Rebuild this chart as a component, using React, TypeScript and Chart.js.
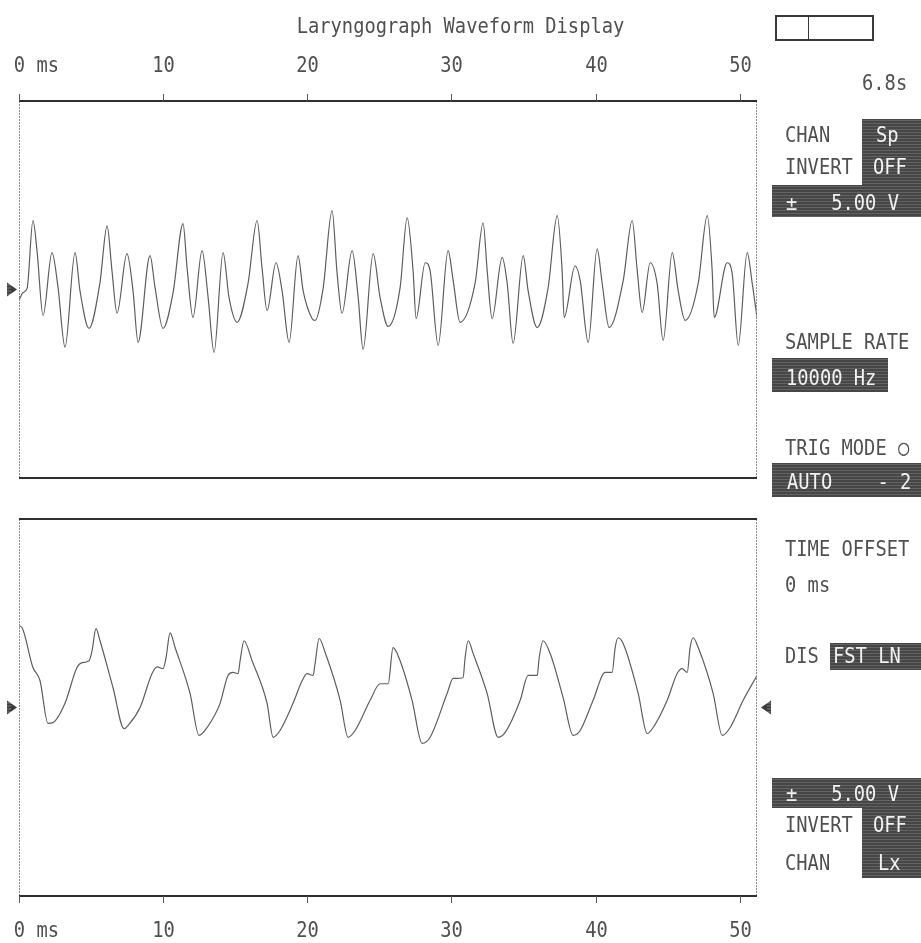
import React, { useEffect, useRef } from 'react';
import { Chart, registerables } from 'chart.js';

Chart.register(...registerables);

// ---------- data ----------
const X_MAX_MS = 51.2;
const V_RANGE = 5;
const TICK_VALUES = [0, 10, 20, 30, 40, 50];
const TICK_LABELS = ['0 ms', '10', '20', '30', '40', '50'];

// Speech (Sp) channel, top panel
const SP_TIME_MS = [
  0, 0.28, 0.56, 0.97, 1.25, 1.67, 2.29, 2.71, 3.19, 3.89,
  4.23, 4.86, 5.62, 6.11, 6.45, 6.8, 7.49, 7.91, 8.26, 9.09,
  9.44, 9.99, 10.69, 11.38, 11.66, 12.07, 12.7, 13.12, 13.53, 14.16,
  14.57, 15.13, 15.89, 16.52, 16.86, 17.21, 17.83, 18.25, 18.74, 19.36,
  19.71, 20.33, 20.54, 21.1, 21.72, 22.07, 22.41, 23.11, 23.53, 23.87,
  24.57, 25.05, 25.61, 26.44, 26.93, 27.34, 27.55, 28.18, 28.52, 29.08,
  29.77, 30.12, 30.6, 31.64, 32.2, 32.48, 32.82, 33.52, 33.87, 34.28,
  34.98, 35.32, 35.95, 36.71, 37.34, 37.68, 37.82, 38.58, 38.93, 39.49,
  40.11, 40.46, 40.94, 41.92, 42.54, 42.89, 43.23, 43.79, 44.27, 44.69,
  45.32, 45.73, 46.22, 47.12, 47.75, 48.09, 48.23, 49.13, 49.48, 49.9,
  50.52, 50.87, 51.2,
];
const SP_VOLTS = [
  -0.29, -0.08, 0.03, 1.83, 1.03, -0.69, 0.98, 0.05, -1.53, 0.98,
  -0.03, -1.03, 0.19, 1.69, 0.5, -0.63, 0.95, -0.03, -1.4, 0.9,
  0.05, -1.03, -0.08, 1.75, 0.58, -0.74, 1.03, -0.21, -1.67, 0.98,
  -0.21, -0.87, 0.16, 1.83, 0.58, -0.56, 0.71, -0.03, -1.4, 0.9,
  -0.03, -0.77, -0.82, 0.03, 2.09, 0.42, -0.63, 1.03, -0.21, -1.59,
  0.95, -0.21, -0.98, 0.05, 1.9, 0.5, -0.77, 0.71, 0.5, -1.48,
  1.03, 0.24, -0.87, 0.16, 1.77, 0.5, -0.77, 0.85, 0.16, -1.43,
  0.9, -0.03, -1.01, 0.05, 1.96, 0.5, -0.74, 0.63, 0.24, -1.4,
  1.08, 0.16, -1.01, 0.24, 1.83, 0.5, -0.61, 0.71, 0.16, -1.35,
  0.98, -0.03, -0.82, 0.16, 1.96, 0.5, -0.74, 0.71, 0.42, -1.48,
  0.98, 0.16, -0.74,
];

// Laryngograph (Lx) channel, bottom panel
const LX_TIME_MS = [
  0, 0.21, 0.97, 1.46, 2.01, 2.36, 3.19, 4.02, 4.37, 4.86,
  5.07, 5.34, 5.62, 6.52, 7.29, 7.56, 8.4, 9.23, 9.58, 9.99,
  10.2, 10.48, 10.83, 11.87, 12.49, 13.05, 13.95, 14.5, 14.85, 15.2,
  15.34, 15.61, 16.17, 17.21, 17.63, 18.11, 19.01, 19.64, 19.99, 20.4,
  20.54, 20.82, 21.24, 22.28, 22.83, 23.32, 24.36, 25.05, 25.61, 25.95,
  26.44, 27.27, 27.97, 28.52, 29.7, 30.12, 30.81, 30.95, 31.16, 31.51,
  32.48, 33.24, 33.73, 34.77, 35.32, 35.95, 36.09, 36.36, 36.85, 37.75,
  38.45, 38.93, 39.83, 40.67, 41.15, 41.36, 41.57, 41.92, 42.96, 43.58,
  44.0, 44.97, 45.66, 46.01, 46.36, 46.56, 46.77, 47.12, 48.16, 48.79,
  49.34, 50.24, 51.2,
];
const LX_VOLTS = [
  2.17, 2.12, 1.06, 0.71, -0.42, -0.4, 0.11, 1.06, 1.19, 1.24,
  1.51, 2.09, 1.77, 0.53, -0.56, -0.48, 0.0, 0.9, 1.08, 1.03,
  1.32, 1.98, 1.59, 0.37, -0.74, -0.53, 0.11, 0.85, 0.93, 0.9,
  1.24, 1.77, 1.24, 0.11, -0.79, -0.61, 0.11, 0.71, 0.9, 0.85,
  1.16, 1.83, 1.46, 0.19, -0.79, -0.61, 0.19, 0.63, 0.63, 1.59,
  1.24, 0.19, -0.95, -0.79, 0.37, 0.77, 0.79, 1.32, 1.77, 1.43,
  0.37, -0.79, -0.66, 0.19, 0.85, 0.85, 1.32, 1.77, 1.43, 0.26,
  -0.74, -0.61, 0.19, 0.93, 0.93, 1.59, 1.85, 1.69, 0.37, -0.69,
  -0.53, 0.19, 0.9, 1.03, 0.93, 1.59, 1.85, 1.59, 0.37, -0.74,
  -0.53, 0.19, 0.85,
];

// ---------- text / panel content ----------
const TITLE = 'Laryngograph Waveform Display';
const SWEEP_TIME = '6.8s';
// [text, x, baseline, inverse]
const PANEL_TEXT: [string, number, number, boolean][] = [
  ['CHAN', 785, 142, false],
  ['Sp', 876, 142, true],
  ['INVERT', 785, 174, false],
  ['OFF', 873, 174, true],
  ['±   5.00 V', 786, 210, true],
  ['SAMPLE RATE', 785, 349, false],
  ['10000 Hz', 786, 385, true],
  ['TRIG MODE ○', 785, 455, false],
  ['AUTO    - 2', 787, 489, true],
  ['TIME OFFSET', 785, 556, false],
  ['0 ms', 785, 592, false],
  ['DIS', 785, 663, false],
  ['FST LN', 833, 663, true],
  ['±   5.00 V', 786, 801, true],
  ['INVERT', 785, 832, false],
  ['OFF', 873, 832, true],
  ['CHAN', 785, 870, false],
  ['Lx', 878, 870, true],
];
// [x, y, w, h]
const PANEL_BOXES: [number, number, number, number][] = [
  [862, 119, 59, 66],
  [772, 185, 149, 32],
  [772, 358, 116, 34],
  [772, 463, 149, 34],
  [830, 643, 91, 27],
  [772, 778, 149, 30],
  [862, 808, 59, 70],
];

// ---------- drawing helpers ----------
const FONT_PX = 22;
const SX = 0.853;
const FONT = `${FONT_PX}px "DejaVu Sans Mono", "Liberation Mono", monospace`;
const INK = '#505050';

function drawText(ctx: CanvasRenderingContext2D, s: string, x: number, y: number, color: string, align: CanvasTextAlign = 'left') {
  ctx.save();
  ctx.font = FONT;
  ctx.fillStyle = color;
  ctx.textBaseline = 'alphabetic';
  ctx.textAlign = align;
  ctx.translate(x, y);
  ctx.scale(SX, 1);
  ctx.fillText(s, 0, 0);
  ctx.restore();
}

function textWidth(ctx: CanvasRenderingContext2D, s: string) {
  ctx.save();
  ctx.font = FONT;
  const w = ctx.measureText(s).width * SX;
  ctx.restore();
  return w;
}

function darkBox(ctx: CanvasRenderingContext2D, x: number, y: number, w: number, h: number) {
  ctx.save();
  ctx.fillStyle = '#464646';
  ctx.fillRect(x, y, w, h);
  ctx.fillStyle = 'rgba(255,255,255,0.16)';
  for (let yy = y + 1; yy < y + h; yy += 3) ctx.fillRect(x, yy, w, 1);
  ctx.restore();
}

function seg(ctx: CanvasRenderingContext2D, x1: number, y1: number, x2: number, y2: number) {
  ctx.beginPath();
  ctx.moveTo(x1, y1);
  ctx.lineTo(x2, y2);
  ctx.stroke();
}

function marker(ctx: CanvasRenderingContext2D, tipX: number, y: number, dir: number) {
  const baseX = tipX - dir * 10;
  ctx.save();
  ctx.fillStyle = '#3c3c3c';
  ctx.beginPath();
  ctx.moveTo(baseX, y - 7);
  ctx.lineTo(tipX, y);
  ctx.lineTo(baseX, y + 7);
  ctx.closePath();
  ctx.fill();
  ctx.strokeStyle = 'rgba(255,255,255,0.35)';
  ctx.lineWidth = 1;
  for (let k = -5; k <= 5; k += 3) seg(ctx, baseX, y + k + 0.5, baseX + dir * 4, y + k + 0.5);
  ctx.restore();
}

const scopeFrame = {
  id: 'scopeFrame',
  afterDraw(chart: any, _args: any, opts: any) {
    const { ctx, chartArea: a, scales } = chart;
    const xs = scales.x;
    const ys = scales.y;
    ctx.save();
    // side borders (thin, dotted look)
    ctx.strokeStyle = '#8c8c8c';
    ctx.lineWidth = 1;
    ctx.setLineDash([2, 1]);
    seg(ctx, a.left + 0.5, a.top, a.left + 0.5, a.bottom);
    seg(ctx, a.right - 0.5, a.top, a.right - 0.5, a.bottom);
    ctx.setLineDash([]);
    // top and bottom edges (heavy)
    ctx.strokeStyle = '#2f2f2f';
    ctx.lineWidth = 2;
    seg(ctx, a.left, a.top, a.right, a.top);
    seg(ctx, a.left, a.bottom, a.right, a.bottom);
    // ticks and labels
    const isTop = opts.axis === 'top';
    const edge = isTop ? a.top : a.bottom;
    const dir = isTop ? -1 : 1;
    ctx.strokeStyle = '#5a5a5a';
    ctx.lineWidth = 1;
    TICK_VALUES.forEach((v, i) => {
      const px = Math.round(xs.getPixelForValue(v)) + 0.5;
      seg(ctx, px, edge, px, edge + dir * 7);
      const label = TICK_LABELS[i];
      const first = label.split(' ')[0];
      const w = textWidth(ctx, first);
      const baseline = isTop ? a.top - 29 : a.bottom + 41;
      drawText(ctx, label, px - w / 2, baseline, INK, 'left');
    });
    // zero-level markers
    const y0 = ys.getPixelForValue(0);
    (opts.markers || []).forEach((m: string) => {
      if (m === 'left') marker(ctx, a.left - 2, y0, 1);
      else marker(ctx, a.right + 4, y0, -1);
    });
    ctx.restore();
  },
};

const pagePanel = {
  id: 'pagePanel',
  afterDraw(chart: any) {
    const { ctx, chartArea: a } = chart;
    ctx.save();
    // title centred on page
    drawText(ctx, TITLE, chart.width / 2, 33, INK, 'center');
    // sweep indicator box
    ctx.strokeStyle = '#3a3a3a';
    ctx.lineWidth = 2;
    ctx.strokeRect(776, 16, 97, 24);
    ctx.lineWidth = 1;
    seg(ctx, 808.5, 16, 808.5, 40);
    drawText(ctx, SWEEP_TIME, 862, 90, INK);
    PANEL_BOXES.forEach(([x, y, w, h]) => darkBox(ctx, x, y, w, h));
    PANEL_TEXT.forEach(([t, x, y, inv]) => drawText(ctx, t, x, y, inv ? '#f2f2f2' : INK));
    void a;
    ctx.restore();
  },
};

function makeChart(
  canvas: HTMLCanvasElement,
  time: number[],
  volts: number[],
  padding: { left: number; top: number; right: number; bottom: number },
  axis: string,
  markers: string[],
  withPanel: boolean,
) {
  return new Chart(canvas, {
    type: 'line',
    data: {
      datasets: [
        {
          data: time.map((t, i) => ({ x: t, y: volts[i] })),
          borderColor: '#5e5e5e',
          borderWidth: 1.2,
          pointRadius: 0,
          cubicInterpolationMode: 'monotone',
          fill: false,
        },
      ],
    },
    options: {
      animation: false,
      responsive: false,
      maintainAspectRatio: false,
      events: [],
      layout: { padding },
      scales: {
        x: { type: 'linear', min: 0, max: X_MAX_MS, display: false },
        y: { type: 'linear', min: -V_RANGE, max: V_RANGE, display: false },
      },
      plugins: {
        legend: { display: false },
        tooltip: { enabled: false },
        title: { display: false },
        scopeFrame: { axis, markers },
      } as any,
    },
    plugins: withPanel ? [scopeFrame, pagePanel] : [scopeFrame],
  } as any);
}

export default function App() {
  const topRef = useRef<HTMLCanvasElement>(null);
  const botRef = useRef<HTMLCanvasElement>(null);

  useEffect(() => {
    const W = 921;
    const H = 943;
    const top = makeChart(
      topRef.current as HTMLCanvasElement,
      SP_TIME_MS,
      SP_VOLTS,
      { left: 19, top: 101, right: W - 757, bottom: H - 478 },
      'top',
      ['left'],
      true,
    );
    const bot = makeChart(
      botRef.current as HTMLCanvasElement,
      LX_TIME_MS,
      LX_VOLTS,
      { left: 19, top: 519, right: W - 757, bottom: H - 896 },
      'bottom',
      ['left', 'right'],
      false,
    );
    return () => {
      top.destroy();
      bot.destroy();
    };
  }, []);

  return (
    <div
      style={{
        position: 'absolute',
        left: 0,
        top: 0,
        width: 921,
        height: 943,
        background: '#ffffff',
        overflow: 'hidden',
      }}
    >
      <canvas ref={topRef} width={921} height={943} style={{ position: 'absolute', left: 0, top: 0 }} />
      <canvas ref={botRef} width={921} height={943} style={{ position: 'absolute', left: 0, top: 0 }} />
    </div>
  );
}
